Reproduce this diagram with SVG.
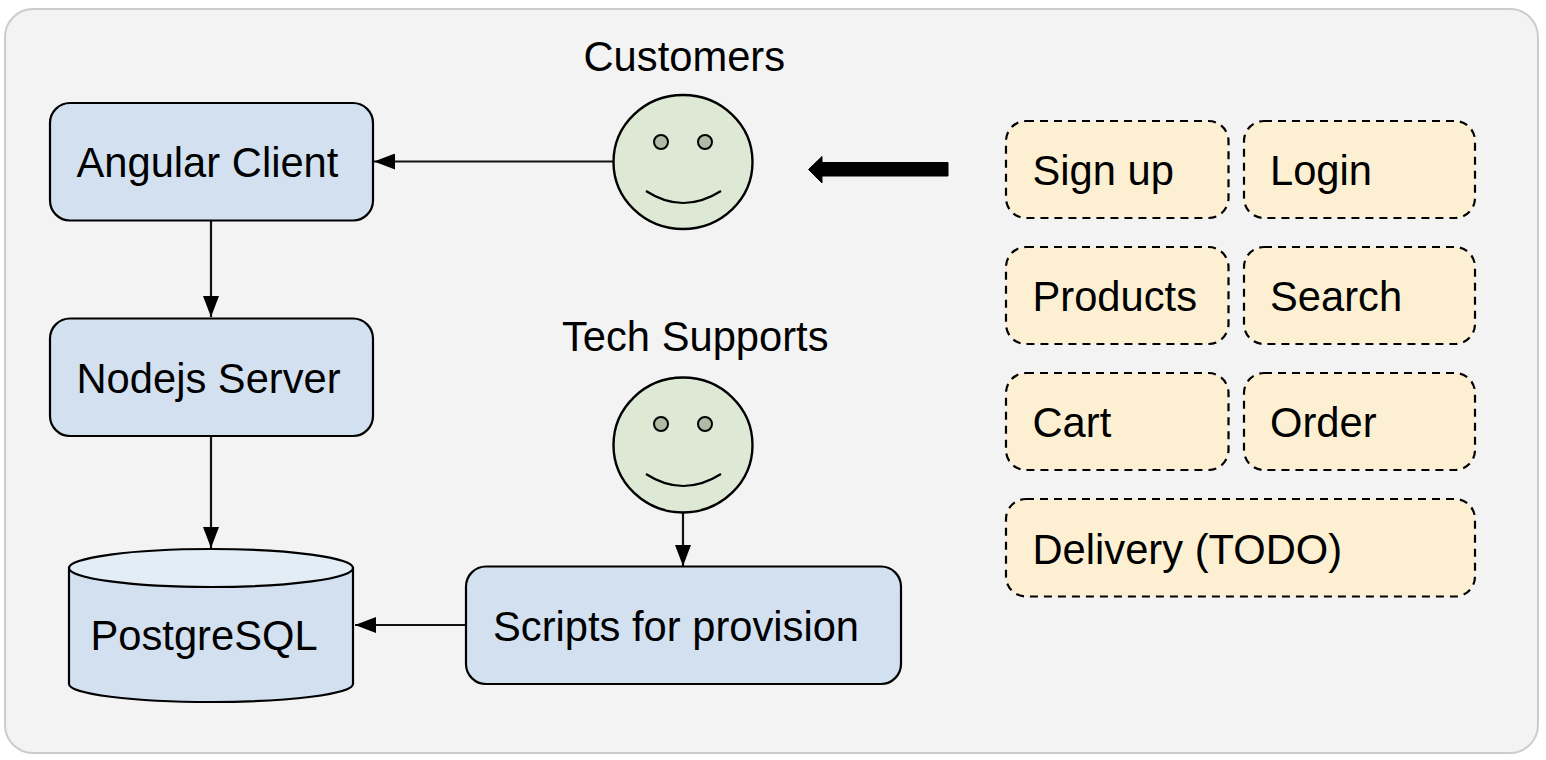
<svg xmlns="http://www.w3.org/2000/svg" width="1546" height="760" viewBox="0 0 1546 760">
<defs>
<style>
text{font-family:"Liberation Sans",Arial,sans-serif;font-size:41.7px;fill:#000}
.n{fill:#d3e0f0;stroke:#000;stroke-width:2.2}
.d{fill:#fdf0d2;stroke:#000;stroke-width:2.2;stroke-dasharray:8 6}
.f{fill:#dde8d5;stroke:#000;stroke-width:2.4}
.e{fill:#b0bba6;stroke:#000;stroke-width:2}
.m{fill:none;stroke:#000;stroke-width:2.2}
.c{fill:none;stroke:#111;stroke-width:2.2}
</style>
<marker id="a" markerUnits="userSpaceOnUse" markerWidth="22" markerHeight="16" refX="21" refY="8" orient="auto"><path d="M0 0L21 8L0 16z" fill="#000"/></marker>
</defs>
<rect id="panel" x="5" y="9" width="1533" height="744" rx="28" fill="#f3f3f3" stroke="#ccc" stroke-width="2"/>
<g id="connectors">
<path class="c" d="M613 161.500H374" marker-end="url(#a)"/>
<path class="c" d="M211 221V317" marker-end="url(#a)"/>
<path class="c" d="M211 436V548" marker-end="url(#a)"/>
<path class="c" d="M683 512V566" marker-end="url(#a)"/>
<path class="c" d="M466 625H355" marker-end="url(#a)"/>
<path d="M948 162.500V176H822V183L808.500 169.500L822 156.500V162.500z" fill="#000" stroke="#000" stroke-width="1"/>
</g>
<g id="angular"><rect class="n" x="50" y="103" width="323" height="117.500" rx="20"/><text x="76.500" y="177">Angular Client</text></g>
<g id="nodejs"><rect class="n" x="50" y="318.500" width="323" height="117.500" rx="20"/><text x="76.500" y="393">Nodejs Server</text></g>
<g id="postgres"><path class="n" d="M69 568V684C69 694 133 702 211 702S353 694 353 684V568z"/><ellipse cx="211" cy="568" rx="142" ry="19" fill="#e3edf6" stroke="#000" stroke-width="2.200"/><text x="90.500" y="650">PostgreSQL</text></g>
<g id="scripts"><rect class="n" x="466" y="566.500" width="435" height="117.500" rx="20"/><text x="493" y="641">Scripts for provision</text></g>
<g id="customers"><text x="583.500" y="71">Customers</text><ellipse class="f" cx="683" cy="162" rx="69.500" ry="67"/><circle class="e" cx="661" cy="142" r="7"/><circle class="e" cx="705" cy="142" r="7"/><path class="m" d="M646 191Q683 215 721 191"/></g>
<g id="tech"><text x="562" y="351">Tech Supports</text><ellipse class="f" cx="683" cy="445" rx="69.500" ry="67.500"/><circle class="e" cx="661" cy="424" r="7"/><circle class="e" cx="705" cy="424" r="7"/><path class="m" d="M646 474Q683 498 721 474"/></g>
<g id="signup"><rect class="d" x="1006" y="121" width="222.500" height="97" rx="20"/><text x="1032.500" y="185">Sign up</text></g>
<g id="login"><rect class="d" x="1244" y="121" width="231" height="97" rx="20"/><text x="1270" y="185">Login</text></g>
<g id="products"><rect class="d" x="1006" y="247" width="222.500" height="97" rx="20"/><text x="1032.500" y="311">Products</text></g>
<g id="search"><rect class="d" x="1244" y="247" width="231" height="97" rx="20"/><text x="1270" y="311">Search</text></g>
<g id="cart"><rect class="d" x="1006" y="373" width="222.500" height="97" rx="20"/><text x="1032.500" y="437">Cart</text></g>
<g id="order"><rect class="d" x="1244" y="373" width="231" height="97" rx="20"/><text x="1270" y="437">Order</text></g>
<g id="delivery"><rect class="d" x="1006" y="499" width="469" height="97.500" rx="20"/><text x="1032.500" y="564">Delivery (TODO)</text></g>
</svg>
